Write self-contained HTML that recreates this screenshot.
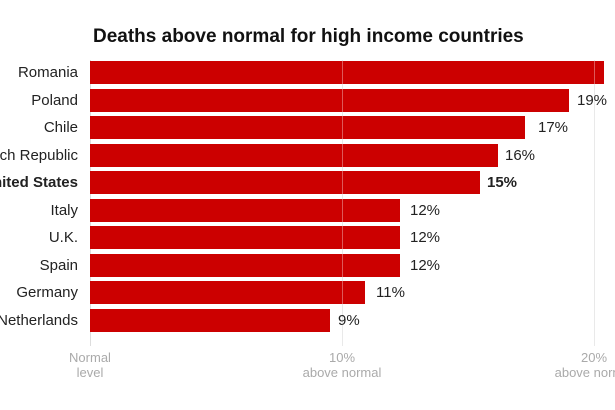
<!DOCTYPE html>
<html><head><style>
body{margin:0;background:#fff;width:615px;height:410px;overflow:hidden;font-family:"Liberation Sans",sans-serif;position:relative}
.t{position:absolute;left:93px;top:26px;font-size:19px;font-weight:bold;color:#111;letter-spacing:0px}
.l{position:absolute;right:537px;font-size:15px;color:#222;white-space:nowrap;line-height:23px}
.b{position:absolute;left:90px;height:23px;background:#cc0000}
.v{position:absolute;font-size:15px;color:#222;line-height:23px}
.g{position:absolute;top:60px;width:1px;height:286px;background:#ddd}
.gi{position:absolute;top:60px;width:1px;height:286px;background:rgba(255,255,255,0.35)}
.a{position:absolute;font-size:13px;color:#aaa;text-align:center;line-height:15px;width:120px}
</style></head><body>
<div class="t">Deaths above normal for high income countries</div>
<div class="g" style="left:90px"></div>
<div class="g" style="left:342px"></div>
<div class="g" style="left:594px"></div>
<div class="b" style="top:61px;width:514px"></div>
<div class="b" style="top:88.5px;width:479px"></div>
<div class="b" style="top:116px;width:435px"></div>
<div class="b" style="top:143.5px;width:408px"></div>
<div class="b" style="top:171px;width:390px"></div>
<div class="b" style="top:198.5px;width:310px"></div>
<div class="b" style="top:226px;width:310px"></div>
<div class="b" style="top:253.5px;width:310px"></div>
<div class="b" style="top:281px;width:275px"></div>
<div class="b" style="top:308.5px;width:240px"></div>
<div class="gi" style="left:342px"></div>
<div class="gi" style="left:594px"></div>
<div class="l" style="top:61px">Romania</div>
<div class="l" style="top:88.5px">Poland</div>
<div class="l" style="top:116px">Chile</div>
<div class="l" style="top:143.5px">Czech Republic</div>
<div class="l" style="top:171px;font-weight:bold">United States</div>
<div class="l" style="top:198.5px">Italy</div>
<div class="l" style="top:226px">U.K.</div>
<div class="l" style="top:253.5px">Spain</div>
<div class="l" style="top:281px">Germany</div>
<div class="l" style="top:308.5px">Netherlands</div>
<div class="v" style="top:88.5px;left:577px">19%</div>
<div class="v" style="top:116px;left:538px">17%</div>
<div class="v" style="top:143.5px;left:505px">16%</div>
<div class="v" style="top:171px;left:487px;font-weight:bold">15%</div>
<div class="v" style="top:198.5px;left:410px">12%</div>
<div class="v" style="top:226px;left:410px">12%</div>
<div class="v" style="top:253.5px;left:410px">12%</div>
<div class="v" style="top:281px;left:376px">11%</div>
<div class="v" style="top:308.5px;left:338px">9%</div>
<div class="a" style="left:30px;top:350px">Normal<br>level</div>
<div class="a" style="left:282px;top:350px">10%<br>above normal</div>
<div class="a" style="left:534px;top:350px">20%<br>above normal</div>
</body></html>
